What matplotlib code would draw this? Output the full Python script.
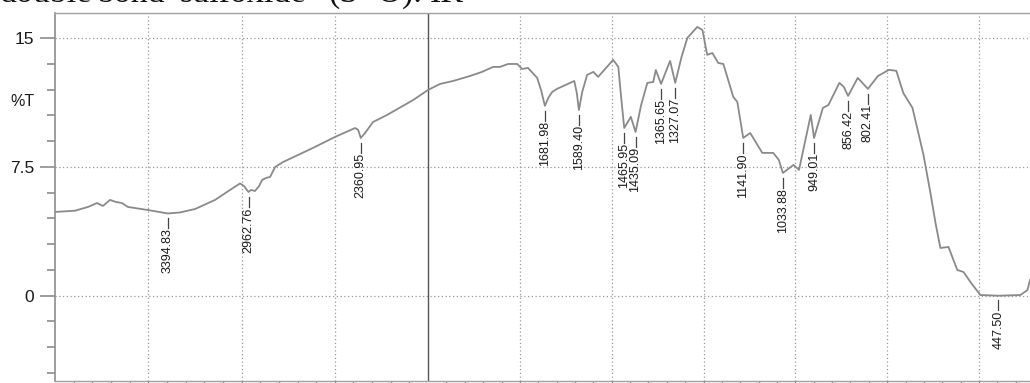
import numpy as np
import matplotlib
matplotlib.use("Agg")
import matplotlib.pyplot as plt
from matplotlib.ticker import FixedLocator, NullFormatter

# IR spectrum: wavenumber (cm-1) and transmittance (%T)
wavenumber = [
    4000, 3893, 3823, 3775, 3743, 3705, 3673, 3641, 3609, 3501,
    3394.83, 3330, 3249, 3142, 3062, 3008, 2987, 2962.76, 2949, 2928,
    2906, 2890, 2869, 2847, 2820, 2777, 2617, 2499, 2391, 2375,
    2360.95, 2338, 2295, 2220, 2080, 2000,
    1967, 1932, 1886, 1853, 1823, 1804, 1782, 1757, 1744, 1728,
    1703, 1692, 1681.98, 1672, 1662, 1649, 1613, 1602, 1595, 1589.40,
    1580, 1567, 1550, 1537, 1496, 1482, 1475, 1465.95, 1448, 1435.09,
    1420, 1403, 1387, 1380, 1365.65, 1341, 1327.07, 1310, 1294, 1267,
    1253, 1240, 1226, 1210, 1196, 1169, 1158, 1141.90, 1123, 1090,
    1060, 1045, 1033.88, 1005, 990, 958, 949.01, 925, 910, 880,
    868, 856.42, 830, 802.41, 775, 745, 725, 706, 681, 651,
    632, 618, 605, 583, 559, 542, 520, 496, 447.50, 387,
    368, 361,
]
transmittance = [
    4.88, 4.95, 5.17, 5.40, 5.23, 5.58, 5.46, 5.40, 5.17, 4.99,
    4.79, 4.85, 5.05, 5.58, 6.16, 6.54, 6.39, 6.04, 6.16, 6.10,
    6.39, 6.74, 6.86, 6.92, 7.50, 7.79, 8.61, 9.25, 9.77, 9.66,
    9.19, 9.48, 10.12, 10.53, 11.40, 11.99,
    12.34, 12.51, 12.80, 13.04, 13.33, 13.33, 13.50, 13.50, 13.21, 13.27,
    12.69, 11.95, 11.06, 11.55, 11.87, 12.05, 12.40, 12.51, 11.80, 10.82,
    11.90, 12.86, 13.04, 12.75, 13.74, 13.33, 11.70, 9.77, 10.42, 9.54,
    11.10, 12.40, 12.45, 13.15, 12.34, 13.68, 12.40, 13.90, 15.02, 15.66,
    15.48, 14.03, 14.14, 13.56, 13.50, 11.58, 11.29, 9.19, 9.48, 8.32,
    8.32, 7.91, 7.15, 7.62, 7.33, 10.53, 9.19, 10.94, 11.11, 12.40,
    12.16, 11.64, 12.69, 12.05, 12.80, 13.16, 13.10, 11.81, 10.94, 8.20,
    5.97, 4.20, 2.78, 2.84, 1.50, 1.38, 0.70, 0.04, 0.0, 0.04,
    0.33, 0.92,
]

# Labelled absorption bands
peak_labels = ["3394.83", "2962.76", "2360.95", "1681.98", "1589.40",
               "1465.95", "1435.09", "1365.65", "1327.07", "1141.90",
               "1033.88", "949.01", "856.42", "802.41", "447.50"]

y_major = [0, 7.5, 15]
y_labels = ["0", "7.5", "15"]

heading_words = ["double", "bond", "sulfoxide", "(S=O).", "IR"]

# Two-segment wavenumber axis: 4000-2000 compressed, below 2000 expanded
BREAK = 2000.0
SHRINK = 0.508


def forward(x):
    x = np.asarray(x, dtype=float)
    return np.where(x <= BREAK, x, BREAK + (x - BREAK) * SHRINK)


def inverse(u):
    u = np.asarray(u, dtype=float)
    return np.where(u <= BREAK, u, BREAK + (u - BREAK) / SHRINK)


W, H = 1030, 383
fig = plt.figure(figsize=(W / 100, H / 100), dpi=100)
ax = fig.add_axes([55 / W, 2 / H, 975 / W, 368 / H])
ax.set_xscale("function", functions=(forward, inverse))
ax.set_xlim(4000, 361)
ax.set_ylim(-4.97, 16.47)

line_col = "#8a8a8a"
grid_col = "#9a9a9a"
frame_col = "#8c8c8c"

x_major = [3500, 3000, 2500, 1750, 1500, 1250, 1000, 750, 500]
x_minor = list(range(3900, 2000, -100)) + list(range(1950, 361, -50))
ax.xaxis.set_major_locator(FixedLocator(x_major))
ax.xaxis.set_minor_locator(FixedLocator(x_minor))
ax.xaxis.set_major_formatter(NullFormatter())
ax.yaxis.set_major_locator(FixedLocator(y_major))
ax.set_yticklabels(y_labels)
ax.yaxis.set_minor_locator(FixedLocator([v * 1.5 for v in range(-3, 11)]))

ax.grid(True, which="major", linestyle=(0, (1, 2)), color=grid_col, linewidth=0.9)
ax.axvline(BREAK, color="#555555", linewidth=1.0)

ax.tick_params(axis="y", which="major", length=11, width=1.2, color=frame_col,
               pad=4, labelsize=12.5, labelcolor="#1a1a1a")
ax.tick_params(axis="y", which="minor", length=6, width=1.2, color=frame_col)
ax.tick_params(axis="x", which="major", length=10, width=1.0, color=frame_col,
               labelbottom=False)
ax.tick_params(axis="x", which="minor", length=5, width=1.0, color=frame_col)

for side in ("top", "bottom"):
    ax.spines[side].set_color("#a0a0a0")
    ax.spines[side].set_linewidth(1.0)
ax.spines["left"].set_color(frame_col)
ax.spines["left"].set_linestyle((0, (1, 1)))
ax.spines["left"].set_linewidth(1.2)
ax.spines["right"].set_visible(False)

ax.plot(wavenumber, transmittance, color=line_col, linewidth=1.3,
        solid_joinstyle="round")

# Band markers: short stem below the band minimum, then rotated value text
wn = np.array(wavenumber, dtype=float)
tr = np.array(transmittance, dtype=float)
for lab in peak_labels:
    w = float(lab)
    t = float(tr[np.argmin(np.abs(wn - w))])
    ax.plot([w, w], [t - 0.28, t - 0.86], color="#444444", linewidth=0.9)
    ax.text(w, t - 0.88, lab, rotation=90, ha="center", va="top",
            fontsize=9, family="Liberation Sans", color="#1a1a1a")

ax.text(22 / W, 1 - 102 / H, "%T", transform=fig.transFigure, ha="center",
        va="center", fontsize=11.5, family="Liberation Sans", color="#1a1a1a")

word_x = [0, 97, 180, 328, 430]
for word, px in zip(heading_words, word_x):
    fig.text(px / W, 1 - 2 / H, word, ha="left", va="baseline",
             fontsize=24.5, family="Liberation Serif", color="#111111")

for lbl in ax.get_yticklabels():
    lbl.set_family("Liberation Sans")

fig.savefig("out.png", dpi=100)
